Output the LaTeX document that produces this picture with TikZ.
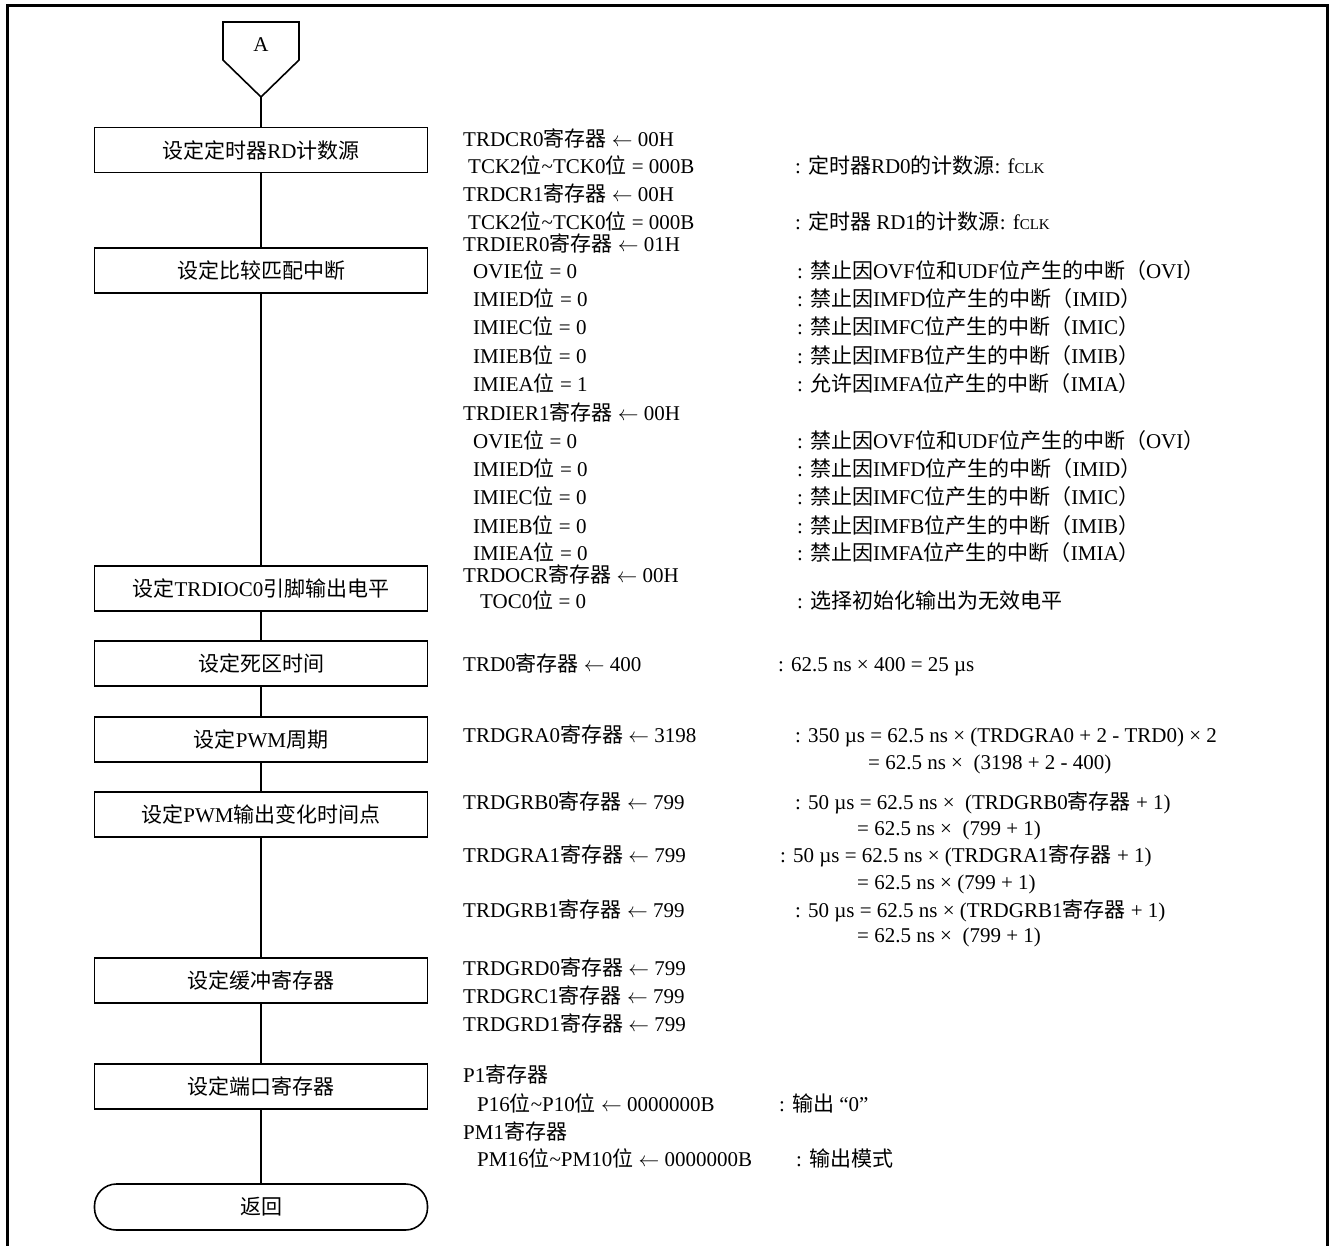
\documentclass[tikz,border=0pt]{standalone}
\usepackage{fontspec}
\setmainfont{Liberation Serif}
\newfontfamily\cjkfont{Noto Sans CJK SC}
\XeTeXinterchartokenstate=1
\newXeTeXintercharclass\CJKcls
\newcount\cc
\cc="4E00
\loop
  \XeTeXcharclass\cc=\CJKcls
  \ifnum\cc<"9FFF \advance\cc by 1
\repeat
\XeTeXcharclass"FF08=\CJKcls
\XeTeXcharclass"FF09=\CJKcls
\XeTeXinterchartoks 0 \CJKcls={\cjkfont}
\XeTeXinterchartoks 4095 \CJKcls={\cjkfont}
\XeTeXinterchartoks \CJKcls 0={\rmfamily}
\XeTeXinterchartoks \CJKcls 4095={\rmfamily}
\newcommand\clk{f{\fontsize{15}{18}\selectfont CLK}}
\newcommand\tl{\textasciitilde}
\newcommand\la{$\leftarrow$}
\tikzset{
  every node/.style={font=\fontsize{21}{25}\selectfont},
  box/.style={draw, line width=1.6pt, minimum width=333pt, minimum height=45pt, inner sep=0pt},
  retbox/.style={draw, line width=1.6pt, minimum width=333pt, minimum height=46pt, inner sep=0pt, rounded corners=22pt},
  conn/.style={line width=1.3pt},
  txt/.style={anchor=west, inner sep=0pt, text height=18pt, text depth=4pt},
  frame/.style={line width=3pt}
}
\begin{document}
\begin{tikzpicture}[x=1pt,y=-1pt]
\useasboundingbox (0,0) rectangle (1330,1245);
\draw[frame] (7,1260) -- (7,5) -- (1327,5) -- (1327,1260);
% connector A
\draw[line width=1.6pt] (223,22) -- (299,22) -- (299,60) -- (261,97) -- (223,60) -- cycle;
\node (A) at (261,45) {A};
\coordinate (tip) at (261,97);
% boxes
\node[box] (b1) at (261,150) {设定定时器RD计数源};
\node[box] (b2) at (261,270.5) {设定比较匹配中断};
\node[box] (b3) at (261,588.5) {设定TRDIOC0引脚输出电平};
\node[box] (b4) at (261,663.5) {设定死区时间};
\node[box] (b5) at (261,739.5) {设定PWM周期};
\node[box] (b6) at (261,814.5) {设定PWM输出变化时间点};
\node[box] (b7) at (261,980.5) {设定缓冲寄存器};
\node[box] (b8) at (261,1086.5) {设定端口寄存器};
\node[retbox] (ret) at (261,1207) {返回};
\draw[conn] (tip) -- (b1);
\draw[conn] (b1) -- (b2);
\draw[conn] (b2) -- (b3);
\draw[conn] (b3) -- (b4);
\draw[conn] (b4) -- (b5);
\draw[conn] (b5) -- (b6);
\draw[conn] (b6) -- (b7);
\draw[conn] (b7) -- (b8);
\draw[conn] (b8) -- (ret);
% left column
\node[txt] (l1) at (463,139) {TRDCR0寄存器 \la{} 00H};
\node[txt] (l2) at (468,166) {TCK2位\tl TCK0位 = 000B};
\node[txt] (l3) at (463,194) {TRDCR1寄存器 \la{} 00H};
\node[txt] (l4) at (468,222) {TCK2位\tl TCK0位 = 000B};
\node[txt] (l5) at (463,244) {TRDIER0寄存器 \la{} 01H};
\node[txt] (l6) at (473,271) {OVIE位 = 0};
\node[txt] (l7) at (473,299) {IMIED位 = 0};
\node[txt] (l8) at (473,327) {IMIEC位 = 0};
\node[txt] (l9) at (473,356) {IMIEB位 = 0};
\node[txt] (l10) at (473,384) {IMIEA位 = 1};
\node[txt] (l11) at (463,413) {TRDIER1寄存器 \la{} 00H};
\node[txt] (l12) at (473,441) {OVIE位 = 0};
\node[txt] (l13) at (473,469) {IMIED位 = 0};
\node[txt] (l14) at (473,497) {IMIEC位 = 0};
\node[txt] (l15) at (473,526) {IMIEB位 = 0};
\node[txt] (l16) at (473,553) {IMIEA位 = 0};
\node[txt] (l17) at (463,575) {TRDOCR寄存器 \la{} 00H};
\node[txt] (l18) at (480,601) {TOC0位 = 0};
\node[txt] (l19) at (463,664) {TRD0寄存器 \la{} 400};
\node[txt] (l20) at (463,735) {TRDGRA0寄存器 \la{} 3198};
\node[txt] (l21) at (463,802) {TRDGRB0寄存器 \la{} 799};
\node[txt] (l22) at (463,855) {TRDGRA1寄存器 \la{} 799};
\node[txt] (l23) at (463,910) {TRDGRB1寄存器 \la{} 799};
\node[txt] (l24) at (463,968) {TRDGRD0寄存器 \la{} 799};
\node[txt] (l25) at (463,996) {TRDGRC1寄存器 \la{} 799};
\node[txt] (l26) at (463,1024) {TRDGRD1寄存器 \la{} 799};
\node[txt] (l27) at (463,1075) {P1寄存器};
\node[txt] (l28) at (477,1104) {P16位\tl P10位 \la{} 0000000B};
\node[txt] (l29) at (463,1132) {PM1寄存器};
\node[txt] (l30) at (477,1159) {PM16位\tl PM10位 \la{} 0000000B};
% right column
\node[txt] (r1) at (795,166) {: 定时器RD0的计数源: \clk};
\node[txt] (r2) at (795,222) {: 定时器 RD1的计数源: \clk};
\node[txt] (r3) at (797,271) {: 禁止因OVF位和UDF位产生的中断（OVI）};
\node[txt] (r4) at (797,299) {: 禁止因IMFD位产生的中断（IMID）};
\node[txt] (r5) at (797,327) {: 禁止因IMFC位产生的中断（IMIC）};
\node[txt] (r6) at (797,356) {: 禁止因IMFB位产生的中断（IMIB）};
\node[txt] (r7) at (797,384) {: 允许因IMFA位产生的中断（IMIA）};
\node[txt] (r8) at (797,441) {: 禁止因OVF位和UDF位产生的中断（OVI）};
\node[txt] (r9) at (797,469) {: 禁止因IMFD位产生的中断（IMID）};
\node[txt] (r10) at (797,497) {: 禁止因IMFC位产生的中断（IMIC）};
\node[txt] (r11) at (797,526) {: 禁止因IMFB位产生的中断（IMIB）};
\node[txt] (r12) at (797,553) {: 禁止因IMFA位产生的中断（IMIA）};
\node[txt] (r13) at (797,601) {: 选择初始化输出为无效电平};
\node[txt] (r14) at (778,664) {: 62.5 ns × 400 = 25 µs};
\node[txt] (r15) at (795,735) {: 350 µs = 62.5 ns × (TRDGRA0 + 2 - TRD0) × 2};
\node[txt] (r16) at (868,762) {= 62.5 ns ×\ \ (3198 + 2 - 400)};
\node[txt] (r17) at (795,802) {: 50 µs = 62.5 ns ×\ \ (TRDGRB0寄存器 + 1)};
\node[txt] (r18) at (857,828) {= 62.5 ns ×\ \ (799 + 1)};
\node[txt] (r19) at (780,855) {: 50 µs = 62.5 ns × (TRDGRA1寄存器 + 1)};
\node[txt] (r20) at (857,882) {= 62.5 ns × (799 + 1)};
\node[txt] (r21) at (795,910) {: 50 µs = 62.5 ns × (TRDGRB1寄存器 + 1)};
\node[txt] (r22) at (857,935) {= 62.5 ns ×\ \ (799 + 1)};
\node[txt] (r23) at (779,1104) {: 输出 “0”};
\node[txt] (r24) at (796,1159) {: 输出模式};
\end{tikzpicture}
\end{document}
